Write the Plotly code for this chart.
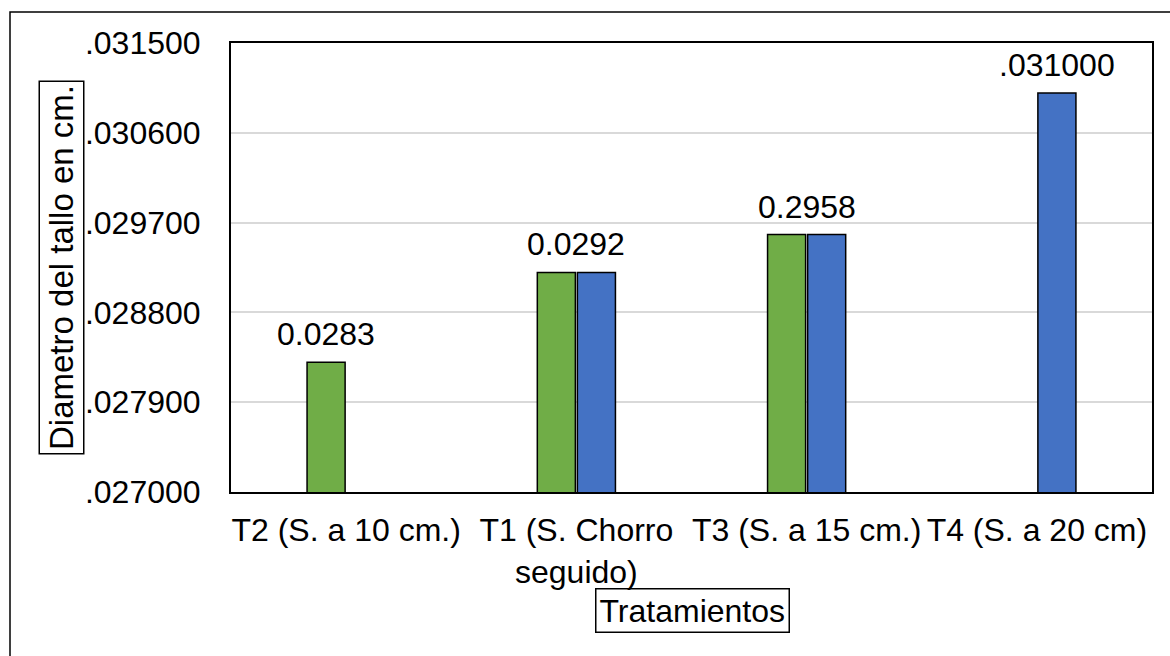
import plotly.graph_objects as go

# Treatments and stem diameter (cm)
categories = ["T2 (S. a 10 cm.)", "T1 (S. Chorro<br>seguido)", "T3 (S. a 15 cm.)", "T4 (S. a 20 cm)"]
green_vals = [0.0283, 0.0292, 0.02958, None]
blue_vals = [None, 0.0292, 0.02958, 0.031]
value_labels = ["0.0283", "0.0292", "0.2958", ".031000"]
tick_vals = [0.027, 0.0279, 0.0288, 0.0297, 0.0306, 0.0315]
tick_text = [".027000", ".027900", ".028800", ".029700", ".030600", ".031500"]

W, H = 1170, 656
ML, MR, MT, MB = 231, 18, 43, 164
PW, PH = W - ML - MR, H - MT - MB
BARGAP = 0.652
GROUPGAP = 0.05
FONT = "Liberation Sans, Arial, sans-serif"
FS = 32


def px_x(x):
    return (x - ML) / PW


def px_y(y):
    return (H - MB - y) / PH


fig = go.Figure()
fig.add_trace(go.Bar(x=categories, y=green_vals, marker=dict(color="#70AD47", line=dict(color="black", width=1.5))))
fig.add_trace(go.Bar(x=categories, y=blue_vals, marker=dict(color="#4472C4", line=dict(color="black", width=1.5))))

# value labels: above the single bar, or centred above a pair
slot = PW / len(categories) * (1 - BARGAP) / 2
for cat, g, b, lab in zip(categories, green_vals, blue_vals, value_labels):
    if g is not None and b is not None:
        shift, top = 0, max(g, b)
    elif g is not None:
        shift, top = -slot / 2, g
    else:
        shift, top = slot / 2, b
    fig.add_annotation(x=cat, y=top, text=lab, showarrow=False, xshift=shift,
                       yanchor="bottom", yshift=8, font=dict(size=FS, color="black", family=FONT))

# boxed axis titles
fig.add_annotation(x=px_x(61), y=px_y(267.5), xref="paper", yref="paper", text="Diametro del tallo en cm.",
                   xanchor="center", yanchor="middle", textangle=-90, showarrow=False,
                   bordercolor="black", borderwidth=1.5, borderpad=3,
                   font=dict(size=33, color="black", family=FONT))
fig.add_annotation(x=px_x(692), y=px_y(610), xref="paper", yref="paper", text="Tratamientos",
                   xanchor="center", yanchor="middle", showarrow=False,
                   bordercolor="black", borderwidth=1.5, borderpad=3,
                   font=dict(size=FS, color="black", family=FONT))

# outer chart frame
fig.add_shape(type="rect", xref="paper", yref="paper", x0=px_x(10), x1=px_x(1185), y0=px_y(670), y1=px_y(12),
              line=dict(color="black", width=1.5), layer="below")

fig.update_layout(
    width=W, height=H, margin=dict(l=ML, r=MR, t=MT, b=MB),
    paper_bgcolor="white", plot_bgcolor="white",
    barmode="group", bargap=BARGAP, bargroupgap=GROUPGAP, showlegend=False,
    font=dict(family=FONT, size=FS, color="black"),
)
fig.update_xaxes(showline=True, linecolor="black", linewidth=2, mirror=True, ticks="", showgrid=False,
                 tickfont=dict(size=FS, color="black"), ticklabelstandoff=9)
fig.update_yaxes(range=[0.027, 0.0315], tickvals=tick_vals, ticktext=tick_text, showline=True,
                 linecolor="black", linewidth=2, mirror=True, ticks="", showgrid=True,
                 gridcolor="#D9D9D9", gridwidth=1.5, zeroline=False,
                 tickfont=dict(size=FS, color="black"), ticklabelstandoff=22)

fig.write_html("out.html")
